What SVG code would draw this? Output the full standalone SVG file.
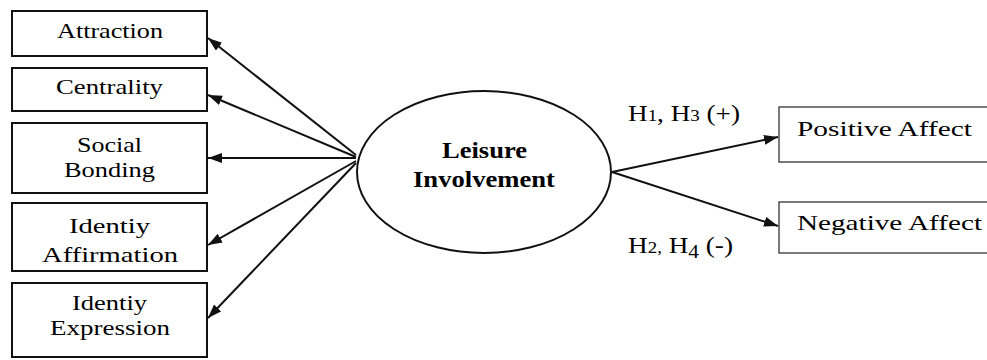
<svg xmlns="http://www.w3.org/2000/svg" width="987" height="360" viewBox="0 0 987 360">
<style>
.box{fill:#fff;stroke:#111;stroke-width:2}
.box2{fill:#fff;stroke:#333;stroke-width:1.3}
.t{font-family:"Liberation Serif","Times New Roman",Times,serif;font-size:22px;fill:#000;text-anchor:start}
.b{font-weight:bold;font-size:23px}
.e{fill:#fff;stroke:#111;stroke-width:2}
.c{stroke:#111;stroke-width:2;fill:none;marker-end:url(#ah)}
</style>
<defs>
<marker id="ah" markerUnits="userSpaceOnUse" markerWidth="16" markerHeight="12" refX="14" refY="5" orient="auto">
<path d="M0,0 L14,5 L0,10 z" fill="#111"/>
</marker>
</defs>
<rect width="987" height="360" fill="#fff"/>
<g id="attraction"><rect class="box" x="12" y="11" width="195" height="45"/><text class="t" x="57" y="38" textLength="106" lengthAdjust="spacingAndGlyphs">Attraction</text></g>
<g id="centrality"><rect class="box" x="12" y="68" width="195" height="43"/><text class="t" x="56" y="94" textLength="107" lengthAdjust="spacingAndGlyphs">Centrality</text></g>
<g id="social"><rect class="box" x="12" y="123" width="195" height="70"/><text class="t" x="77" y="152" textLength="65" lengthAdjust="spacingAndGlyphs">Social</text><text class="t" x="64" y="177" textLength="91" lengthAdjust="spacingAndGlyphs">Bonding</text></g>
<g id="affirmation"><rect class="box" x="12" y="203" width="195" height="68"/><text class="t" x="69" y="233" textLength="81" lengthAdjust="spacingAndGlyphs">Identiy</text><text class="t" x="42" y="262" textLength="136" lengthAdjust="spacingAndGlyphs">Affirmation</text></g>
<g id="expression"><rect class="box" x="12" y="283" width="195" height="74"/><text class="t" x="72" y="310" textLength="75" lengthAdjust="spacingAndGlyphs">Identiy</text><text class="t" x="50" y="335" textLength="120" lengthAdjust="spacingAndGlyphs">Expression</text></g>
<g id="leisure"><ellipse class="e" cx="484" cy="172" rx="127" ry="81"/><text class="t b" x="442" y="158" textLength="85" lengthAdjust="spacingAndGlyphs">Leisure</text><text class="t b" x="413" y="187" textLength="142" lengthAdjust="spacingAndGlyphs">Involvement</text></g>
<g id="positive"><rect class="box2" x="779" y="107" width="215" height="55"/><text class="t" x="797" y="136" textLength="175" lengthAdjust="spacingAndGlyphs">Positive Affect</text></g>
<g id="negative"><rect class="box2" x="779" y="202" width="215" height="51"/><text class="t" x="797" y="230" textLength="185" lengthAdjust="spacingAndGlyphs">Negative Affect</text></g>
<g id="connectors">
<line class="c" x1="356" y1="155" x2="208" y2="38"/>
<line class="c" x1="356" y1="157" x2="208" y2="95"/>
<line class="c" x1="356" y1="158" x2="208" y2="158"/>
<line class="c" x1="356" y1="161" x2="208" y2="245"/>
<line class="c" x1="356" y1="163" x2="208" y2="318"/>
<line class="c" x1="612" y1="172" x2="778" y2="137"/>
<line class="c" x1="612" y1="172" x2="778" y2="226"/>
</g>
<g id="labels">
<text class="t" x="628" y="121" style="font-size:23px" textLength="112" lengthAdjust="spacingAndGlyphs">H<tspan style="font-size:16px">1</tspan>, H<tspan style="font-size:16px">3</tspan> (+)</text>
<text class="t" x="628" y="253" style="font-size:23px" textLength="105" lengthAdjust="spacingAndGlyphs">H<tspan style="font-size:16px">2,</tspan> H<tspan style="font-size:18px" dy="5">4</tspan><tspan dy="-5"> (-)</tspan></text>
</g>
</svg>
